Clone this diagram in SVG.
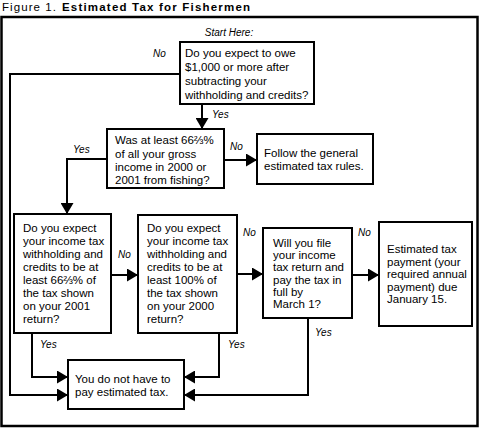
<svg xmlns="http://www.w3.org/2000/svg" width="481" height="436" viewBox="0 0 481 436">
<style>
.box{fill:#fff;stroke:#000;stroke-width:2}
.t{font-family:"Liberation Sans",Arial,sans-serif;font-size:11.5px;fill:#000}
.lbl{font-family:"Liberation Sans",Arial,sans-serif;font-size:10px;font-style:italic;fill:#000}
.c{fill:none;stroke:#000;stroke-width:2}
</style>
<defs>
<marker id="ah" markerUnits="userSpaceOnUse" markerWidth="12" markerHeight="13" refX="11" refY="6.5" orient="auto">
<path d="M0,0 L11,6.5 L0,13 z" fill="#000"/>
</marker>
</defs>
<rect width="481" height="436" fill="#fff"/>
<g id="title">
<text class="t" x="2" y="10.5" font-size="11" textLength="54" lengthAdjust="spacing">Figure 1.</text>
<text class="t" x="62" y="10.5" font-size="11" font-weight="bold" textLength="188" lengthAdjust="spacing">Estimated Tax for Fishermen</text>
</g>
<rect id="frame" x="1.5" y="17" width="476" height="409" fill="none" stroke="#000" stroke-width="2.5"/>
<g id="start"><text class="lbl" x="229" y="36" text-anchor="middle" font-size="10.5">Start Here:</text></g>

<g id="connectors">
<polyline class="c" points="180,74 10,74 10,395 68,395" marker-end="url(#ah)"/>
<line class="c" x1="202" y1="104" x2="202" y2="129" marker-end="url(#ah)"/>
<line class="c" x1="224" y1="160" x2="257" y2="160" marker-end="url(#ah)"/>
<polyline class="c" points="107,159 67,159 67,214" marker-end="url(#ah)"/>
<line class="c" x1="111" y1="275" x2="138" y2="275" marker-end="url(#ah)"/>
<line class="c" x1="237" y1="274" x2="263" y2="274" marker-end="url(#ah)"/>
<line class="c" x1="352" y1="275" x2="379" y2="275" marker-end="url(#ah)"/>
<polyline class="c" points="32,333 32,377 68,377" marker-end="url(#ah)"/>
<polyline class="c" points="219,333 219,377 184,377" marker-end="url(#ah)"/>
<polyline class="c" points="308,318 308,395 184,395" marker-end="url(#ah)"/>
<text class="lbl" x="153" y="57">No</text>
<text class="lbl" x="212" y="118">Yes</text>
<text class="lbl" x="230" y="150">No</text>
<text class="lbl" x="73" y="153">Yes</text>
<text class="lbl" x="118" y="258">No</text>
<text class="lbl" x="243" y="236">No</text>
<text class="lbl" x="358" y="236">No</text>
<text class="lbl" x="40" y="348">Yes</text>
<text class="lbl" x="228" y="348">Yes</text>
<text class="lbl" x="315" y="336">Yes</text>
</g>

<g id="q1">
<rect class="box" x="180" y="42" width="134" height="62"/>
<text class="t" x="185"><tspan x="185" y="57.3">Do you expect to owe</tspan><tspan x="185" y="71.3">$1,000 or more after</tspan><tspan x="185" y="85.3">subtracting your</tspan><tspan x="185" y="99">withholding and credits?</tspan></text>
</g>
<g id="q2">
<rect class="box" x="107" y="129" width="117" height="59"/>
<text class="t"><tspan x="115" y="144.3">Was at least 66⅔%</tspan><tspan x="115" y="157.7">of all your gross</tspan><tspan x="115" y="171">income in 2000 or</tspan><tspan x="115" y="184.3">2001 from fishing?</tspan></text>
</g>
<g id="general">
<rect class="box" x="257" y="134" width="116" height="50"/>
<text class="t"><tspan x="264" y="156.7">Follow the general</tspan><tspan x="264" y="170">estimated tax rules.</tspan></text>
</g>
<g id="q3">
<rect class="box" x="14" y="214" width="97" height="119"/>
<text class="t"><tspan x="23" y="231.7">Do you expect</tspan><tspan x="23" y="244.8">your income tax</tspan><tspan x="23" y="257.9">withholding and</tspan><tspan x="23" y="271">credits to be at</tspan><tspan x="23" y="284.1">least 66⅔% of</tspan><tspan x="23" y="297.2">the tax shown</tspan><tspan x="23" y="310.3">on your 2001</tspan><tspan x="23" y="323.4">return?</tspan></text>
</g>
<g id="q4">
<rect class="box" x="138" y="215" width="99" height="118"/>
<text class="t"><tspan x="147" y="231.7">Do you expect</tspan><tspan x="147" y="244.8">your income tax</tspan><tspan x="147" y="257.9">withholding and</tspan><tspan x="147" y="271">credits to be at</tspan><tspan x="147" y="284.1">least 100% of</tspan><tspan x="147" y="297.2">the tax shown</tspan><tspan x="147" y="310.3">on your 2000</tspan><tspan x="147" y="323.4">return?</tspan></text>
</g>
<g id="q5">
<rect class="box" x="263" y="228" width="89" height="90"/>
<text class="t"><tspan x="273" y="246.7">Will you file</tspan><tspan x="273" y="259">your income</tspan><tspan x="273" y="271.3">tax return and</tspan><tspan x="273" y="283.6">pay the tax in</tspan><tspan x="273" y="295.9">full by</tspan><tspan x="273" y="308.2">March 1?</tspan></text>
</g>
<g id="payment">
<rect class="box" x="379" y="222" width="93" height="104"/>
<text class="t"><tspan x="387" y="253">Estimated tax</tspan><tspan x="387" y="265.5">payment (your</tspan><tspan x="387" y="278">required annual</tspan><tspan x="387" y="290.5">payment) due</tspan><tspan x="387" y="303">January 15.</tspan></text>
</g>
<g id="noneed">
<rect class="box" x="68" y="360" width="116" height="49"/>
<text class="t"><tspan x="75" y="383">You do not have to</tspan><tspan x="75" y="395.5">pay estimated tax.</tspan></text>
</g>
</svg>
